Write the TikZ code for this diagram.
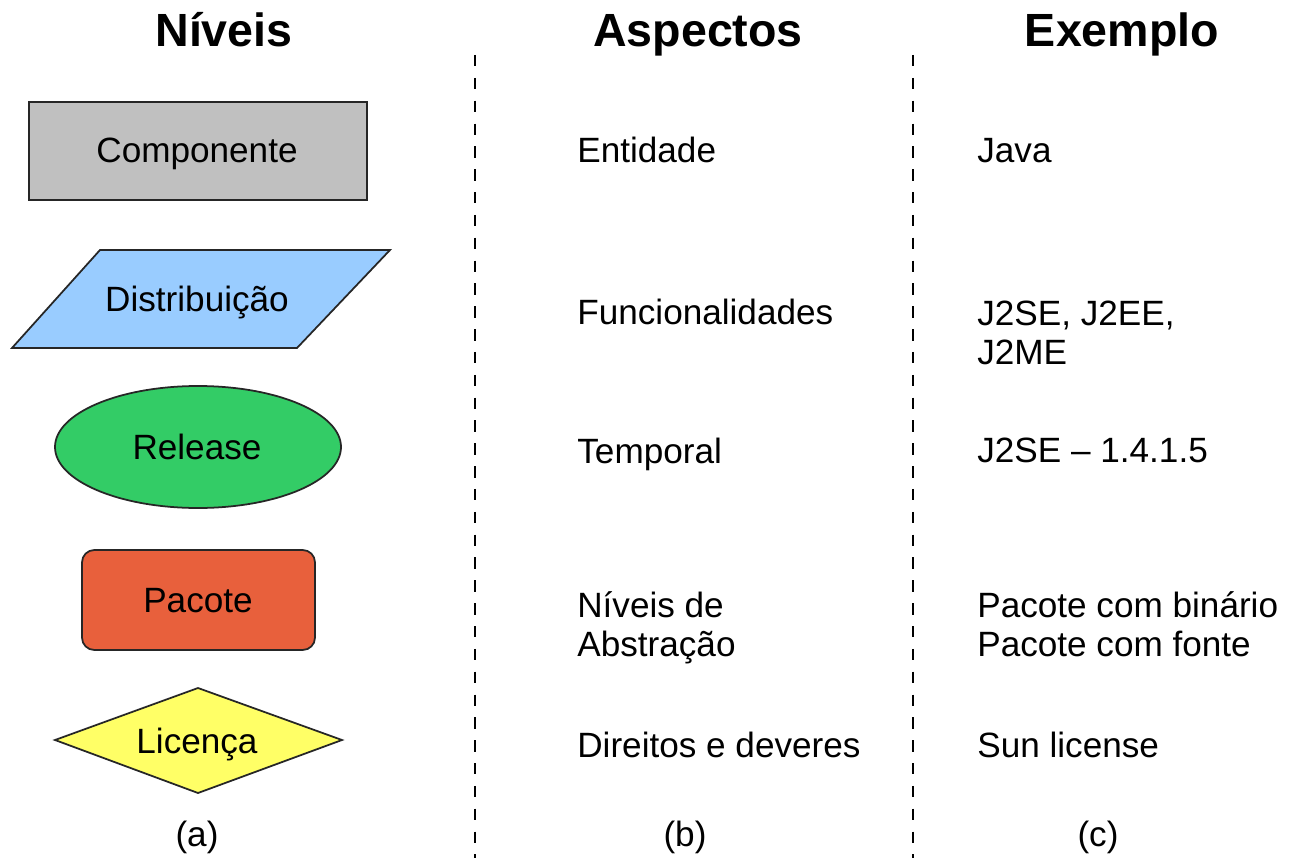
\documentclass[tikz,border=0pt]{standalone}
\usepackage{fontspec}
\setmainfont{Liberation Sans}
\usetikzlibrary{positioning}

\definecolor{compgray}{HTML}{C0C0C0}
\definecolor{distblue}{HTML}{99CCFF}
\definecolor{relgreen}{HTML}{33CC66}
\definecolor{pacred}{HTML}{E8603C}
\definecolor{licyellow}{HTML}{FFFF66}

\tikzset{
  outline/.style={line width=1pt,draw=black!85},
  colhead/.style={anchor=base,font=\fontsize{26.5}{30}\selectfont\bfseries},
  lvtext/.style={anchor=base,font=\fontsize{20}{22}\selectfont},
  coltext/.style={anchor=base west,align=left,inner xsep=0pt,font=\fontsize{20}{22}\selectfont},
  divider/.style={line width=1.2pt,dash pattern=on 6.5pt off 6.5pt}
}

\begin{document}
\begin{tikzpicture}[x=0.02cm,y=-0.02cm]
  \useasboundingbox (0,0) rectangle (1291,858);
  % column headings
  \node[colhead] (hniveis) at (224,47) {Níveis};
  \node[colhead] (haspectos) at (698,47) {Aspectos};
  \node[colhead] (hexemplo) at (1122,47) {Exemplo};
  \coordinate (d1top) at (475,55);
  \coordinate (d1bot) at (475,858);
  \coordinate (d2top) at (913,55);
  \coordinate (d2bot) at (913,858);
  \draw[divider] (d1top) -- (d1bot);
  \draw[divider] (d2top) -- (d2bot);

  % (a) niveis
  \draw[outline,fill=compgray] (29,102) rectangle (367,200);
  \draw[outline,fill=distblue] (100,250) -- (390,250) -- (297,348) -- (12,348) -- cycle;
  \draw[outline,fill=relgreen] (198,447) ellipse [x radius=143,y radius=61];
  \draw[outline,fill=pacred,rounded corners=7pt] (82,550) rectangle (315,650);
  \draw[outline,fill=licyellow] (55,740) -- (198,688) -- (342,740) -- (198,793) -- cycle;
  \node[lvtext] (lvcomp) at (197,163) {Componente};
  \node[lvtext] (lvdist) at (197,311) {Distribuição};
  \node[lvtext] (lvrel) at (197,459) {Release};
  \node[lvtext] (lvpac) at (198,612) {Pacote};
  \node[lvtext] (lvlic) at (197,753) {Licença};

  % (b) aspectos -- multi-line nodes sit on their last baseline
  \node[coltext] (asent) at (577,163) {Entidade};
  \node[coltext] (asfun) at (577,324) {Funcionalidades};
  \node[coltext] (astemp) at (577,463) {Temporal};
  \node[coltext] (asabs) at (577,656) {Níveis de\\Abstração};
  \node[coltext] (asdir) at (577,757) {Direitos e deveres};

  % (c) exemplo
  \node[coltext] (exjava) at (977,163) {Java};
  \node[coltext] (exj2) at (977,364) {J2SE, J2EE,\\J2ME};
  \node[coltext] (exver) at (977,462) {J2SE – 1.4.1.5};
  \node[coltext] (expac) at (977,656) {Pacote com binário\\Pacote com fonte};
  \node[coltext] (exsun) at (977,757) {Sun license};

  % legendas
  \node[lvtext] (capa) at (197,846) {(a)};
  \node[lvtext] (capb) at (685,846) {(b)};
  \node[lvtext] (capc) at (1098,846) {(c)};
\end{tikzpicture}
\end{document}
